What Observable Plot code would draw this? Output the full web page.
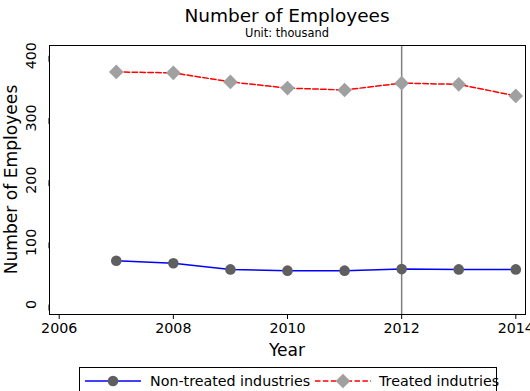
<!DOCTYPE html>
<html>
<head>
<meta charset="utf-8">
<script src="https://cdn.jsdelivr.net/npm/d3@7"></script>
<script src="https://cdn.jsdelivr.net/npm/@observablehq/plot@0.6"></script>
<style>
  html, body { margin: 0; padding: 0; background: #fff; }
  #chart svg { display: block; }
</style>
</head>
<body>
<div id="chart"></div>
<script>
// Employment by group, in thousands
const years = [2007, 2008, 2009, 2010, 2011, 2012, 2013, 2014];
const nonTreated = [70.5, 66.5, 56.5, 54.5, 54.5, 57, 56.5, 56.5];
const treated = [374, 372.5, 358, 348, 345, 356, 354, 335.5];
const xTicks = [2006, 2008, 2010, 2012, 2014];
const yTicks = [0, 100, 200, 300, 400];
const policyYear = 2012;

const title = "Number of Employees";
const subtitle = "Unit: thousand";
const xLabel = "Year";
const yLabel = "Number of Employees";
const seriesNames = ["Non-treated industries", "Treated indutries"];

const font = "DejaVu Sans, Verdana, sans-serif";
const W = 530, H = 391;
const mL = 49, mR = 5, mT = 45, mB = 77;

const rowsNon = years.map((year, i) => ({year, value: nonTreated[i]}));
const rowsTreated = years.map((year, i) => ({year, value: treated[i]}));

const chart = Plot.plot({
  width: W,
  height: H,
  marginLeft: mL,
  marginRight: mR,
  marginTop: mT,
  marginBottom: mB,
  style: {fontFamily: font, background: "#fff", color: "#000"},
  x: {domain: [2005.83, 2014.17]},
  y: {domain: [-16, 416.5]},
  marks: [
    Plot.axisX(xTicks, {
      tickSize: 5, tickPadding: 3, fontSize: 14.25, tickFormat: d => String(d),
      label: null, stroke: "#000"
    }),
    Plot.axisY(yTicks, {
      tickSize: 6, tickPadding: 12, fontSize: 14.25, rotate: -90,
      textAnchor: "middle", label: null, stroke: "#000"
    }),
    Plot.ruleX([policyYear], {stroke: "#7f7f7f", strokeWidth: 1.5}),
    Plot.line(rowsNon, {x: "year", y: "value", stroke: "#0000ff", strokeWidth: 1.5}),
    Plot.line(rowsTreated, {x: "year", y: "value", stroke: "#ff0000", strokeWidth: 1.5,
      strokeDasharray: "5.5,2.4"}),
    Plot.dot(rowsNon, {x: "year", y: "value", r: 5.3, fill: "#5f5f5f", symbol: "circle"}),
    Plot.dot(rowsTreated, {x: "year", y: "value", r: 6.6, fill: "#a0a0a0", symbol: "diamond2"}),
    Plot.frame({stroke: "#000", strokeWidth: 1})
  ]
});

const svg = d3.select(chart);
const cx = mL + (W - mL - mR) / 2;

function addText(parent, x, y, size, str, anchor) {
  return parent.append("text").attr("x", x).attr("y", y)
    .attr("text-anchor", anchor).attr("font-family", font)
    .attr("font-size", size).attr("fill", "#000").text(str);
}

// Title and subtitle
addText(svg, cx, 21.5, 18.5, title, "middle");
addText(svg, cx, 36.5, 11.4, subtitle, "middle");

// Axis titles
addText(svg, cx, 355.5, 17.1, xLabel, "middle");
const cy = mT + (H - mT - mB) / 2;
addText(svg, 0, 0, 17.1, yLabel, "middle")
  .attr("transform", `translate(16.5,${cy}) rotate(-90)`);

// Legend
const lg = svg.append("g");
lg.append("rect").attr("x", 79.5).attr("y", 367.5).attr("width", 417).attr("height", 30)
  .attr("fill", "#fff").attr("stroke", "#000").attr("stroke-width", 1);
const ly = 381;
lg.append("line").attr("x1", 85).attr("x2", 141).attr("y1", ly).attr("y2", ly)
  .attr("stroke", "#0000ff").attr("stroke-width", 1.5);
lg.append("circle").attr("cx", 113).attr("cy", ly).attr("r", 5.3).attr("fill", "#5f5f5f");
addText(lg, 150, 385.5, 14.25, seriesNames[0], "start");
lg.append("line").attr("x1", 315).attr("x2", 371).attr("y1", ly).attr("y2", ly)
  .attr("stroke", "#ff0000").attr("stroke-width", 1.5).attr("stroke-dasharray", "5.5,2.4");
const d = 7.3;
lg.append("path").attr("d", `M343,${ly - d}L${343 + d},${ly}L343,${ly + d}L${343 - d},${ly}Z`)
  .attr("fill", "#a0a0a0");
addText(lg, 379, 385.5, 14.25, seriesNames[1], "start");

document.getElementById("chart").appendChild(chart);
</script>
</body>
</html>
